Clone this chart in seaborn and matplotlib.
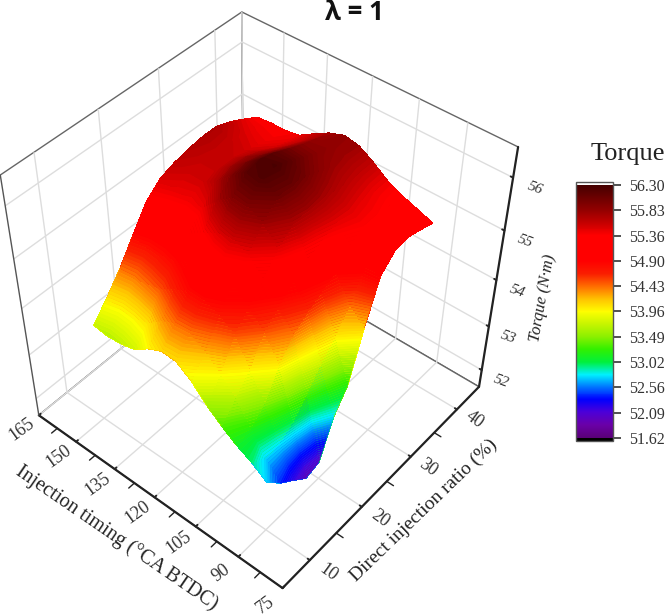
import numpy as np, matplotlib
matplotlib.use('Agg')
import matplotlib.pyplot as plt
import seaborn as sns
from matplotlib.colors import Normalize
from matplotlib.cm import ScalarMappable
from mpl_toolkits.mplot3d import proj3d

injection_timing = [90, 95, 100, 105, 110, 115, 120, 125, 130, 135, 140, 145, 150]
di_ratio = [10, 12.5, 15, 17.5, 20, 22.5, 25, 27.5, 30, 32.5, 35, 37.5, 40]
torque = [
 [52.74,52.40,52.16,51.90,51.99,52.76,53.20,54.15,54.96,55.22,55.26,55.18,55.09],
 [52.96,52.74,52.80,53.00,53.35,53.75,54.05,54.45,55.00,55.29,55.32,55.25,55.19],
 [53.12,53.20,53.50,54.05,54.41,54.62,54.78,54.93,55.17,55.35,55.35,55.31,55.29],
 [53.33,53.69,54.02,54.53,54.77,55.04,55.22,55.35,55.48,55.51,55.47,55.43,55.42],
 [53.57,53.99,54.55,54.83,55.15,55.49,55.72,55.79,55.77,55.71,55.65,55.62,55.62],
 [53.88,54.25,54.74,55.09,55.44,55.82,56.06,56.10,56.02,55.90,55.81,55.78,55.79],
 [54.09,54.42,54.87,55.21,55.58,55.98,56.23,56.27,56.16,56.02,55.90,55.85,55.84],
 [54.11,54.45,54.86,55.15,55.51,55.95,56.19,56.24,56.16,56.03,55.91,55.82,55.74],
 [53.97,54.30,54.70,55.01,55.35,55.74,55.98,56.02,55.95,55.84,55.73,55.62,55.58],
 [53.76,54.08,54.53,54.87,55.16,55.45,55.72,55.80,55.78,55.68,55.55,55.47,55.41],
 [53.69,54.00,54.45,54.80,55.13,55.40,55.55,55.60,55.60,55.55,55.47,55.40,55.36],
 [53.66,53.98,54.38,54.77,55.20,55.45,55.55,55.60,55.62,55.60,55.52,55.42,55.36],
 [53.71,54.05,54.42,54.86,55.28,55.52,55.62,55.68,55.72,55.72,55.62,55.48,55.33],
]
colorbar_ticks = [51.62, 52.09, 52.56, 53.02, 53.49, 53.96, 54.43, 54.90, 55.36, 55.83, 56.30]
colorbar_colors = ['#5a0078','#6a00a8','#4c00d8','#0000ff','#0070ff','#00f0ff','#00f03c','#32f000',
 '#8cf000','#c8f500','#ffff00','#ffc300','#ff6e00','#fa1e00','#ff0000','#ff0000','#ff0000',
 '#c80000','#960000','#6e0000','#460000']
x_ticks = [165, 150, 135, 120, 105, 90, 75]
x_minor = [157.5, 142.5, 127.5, 112.5, 97.5, 82.5]
y_ticks = [10, 20, 30, 40]
y_minor = [15, 25, 35]
z_ticks = [52, 53, 54, 55, 56]

sns.set_theme(style='white')
plt.rcParams['font.family'] = ['Liberation Serif', 'DejaVu Sans']
W, H = 666, 616
fig = plt.figure(figsize=(W/100, H/100), dpi=100)
cmap = sns.blend_palette(colorbar_colors, n_colors=256, as_cmap=True)
cmap.set_over('white'); cmap.set_under('black')
norm = Normalize(51.62, 56.30)

L, S, Bt = -30.1, 567.9, 582.2
pos = [L/W, (H-Bt)/H, S/W, S/H]
ax = fig.add_axes(pos, projection='3d')
ax.patch.set_alpha(0)
X, Y = np.meshgrid(injection_timing, di_ratio, indexing='ij')
Z = np.array(torque)
ax.plot_surface(X, Y, Z, rstride=1, cstride=1, cmap=cmap, norm=norm, linewidth=0, antialiased=False, shade=False)
ax.view_init(elev=45.08, azim=-50.2, roll=-0.26)
ax.set_proj_type('persp', focal_length=0.4806)
ax.set_box_aspect((1, 1, 1))
ax.set_xticks(x_ticks); ax.set_yticks(y_ticks); ax.set_zticks(z_ticks)
ax.set_xticklabels([]); ax.set_yticklabels([]); ax.set_zticklabels([])
for a in (ax.xaxis, ax.yaxis, ax.zaxis):
    a.set_pane_color((1, 1, 1, 1))
    a.pane.set_edgecolor('#666666')
    a.pane.set_linewidth(1.0)
    a.line.set_color('#222222'); a.line.set_linewidth(1.6)
    a._axinfo['grid'].update(color='#dddddd', linewidth=1.0)
    a._axinfo['tick'].update(inward_factor=0.0, outward_factor=0.1, linewidth={True: 1.4, False: 1.0})
ax.grid(True)
for v in x_minor:
    ax.plot([v, v], [5, 4.0], [51.6, 51.6], color='#222222', lw=1.0)
for v in y_minor:
    ax.plot([75, 72.7], [v, v], [51.6, 51.6], color='#222222', lw=1.0)
ax.plot([165, 165], [5, 5], [51.6, 56.55], color='#555555', lw=1.0)
ax.set_xlim(165, 75); ax.set_ylim(5, 45); ax.set_zlim(51.6, 56.55)

# surface colours: filled bands of the same read values, placed with the 3D axes' own projection
M = ax.get_proj()
u, v, _ = proj3d.proj_transform(X.ravel(), Y.ravel(), Z.ravel(), M)
ax2 = fig.add_axes(pos, frameon=False)
ax2.contourf(u.reshape(X.shape), v.reshape(X.shape), Z, levels=np.linspace(51.62, 56.30, 120), cmap=cmap, norm=norm, antialiased=True)
ax2.set_xlim(-0.095, 0.09); ax2.set_ylim(-0.095, 0.09)
ax2.axis('off')

def label3d(x, y, z, s, **kw):
    a, b, _ = proj3d.proj_transform(x, y, z, M)
    ax2.text(a, b, s, ha='center', va='center', color='#333333', rotation_mode='anchor', **kw)

for t in x_ticks:
    label3d(t, 2.0, 51.6, str(t), fontsize=13, rotation=36)
for t in y_ticks:
    label3d(69, t, 51.6, str(t), fontsize=13, rotation=-36)
for t in z_ticks:
    label3d(68.5, 45, t, str(t), fontsize=11, style='italic', rotation=-20)

cax = fig.add_axes([576/W, (H-441)/H, 37/W, 259/H])
cb = fig.colorbar(ScalarMappable(norm=norm, cmap=cmap), cax=cax, extend='both', extendrect=True, extendfrac=0.012, ticks=colorbar_ticks)
cb.ax.set_yticklabels(['%.2f' % t for t in colorbar_ticks], fontsize=11.5, color='#333333')
cb.ax.tick_params(axis='y', direction='out', length=5.8, width=1.2, color='#333333', right=True, pad=6)
cb.outline.set_edgecolor('#555555'); cb.outline.set_linewidth(1.0)

fig.text(628/W, 1-154/H, 'Torque', fontsize=19, ha='center', va='center', color='#222222')
fig.text(354/W, 1-12/H, 'λ = 1', fontsize=18.5, fontweight='bold', family='Open Sans', ha='center', va='center', color='#111111')
fig.text(117/W, 1-538/H, 'Injection timing (°CA BTDC)', fontsize=14.5, rotation=-34.5, rotation_mode='anchor', ha='center', va='center', color='#222222')
fig.text(424/W, 1-510/H, 'Direct injection ratio (%)', fontsize=14, rotation=44, rotation_mode='anchor', ha='center', va='center', color='#222222')
fig.text(543/W, 1-298/H, 'Torque (N·m)', fontsize=12, style='italic', rotation=80, rotation_mode='anchor', ha='center', va='center', color='#222222')
fig.savefig('out.png', dpi=100)
